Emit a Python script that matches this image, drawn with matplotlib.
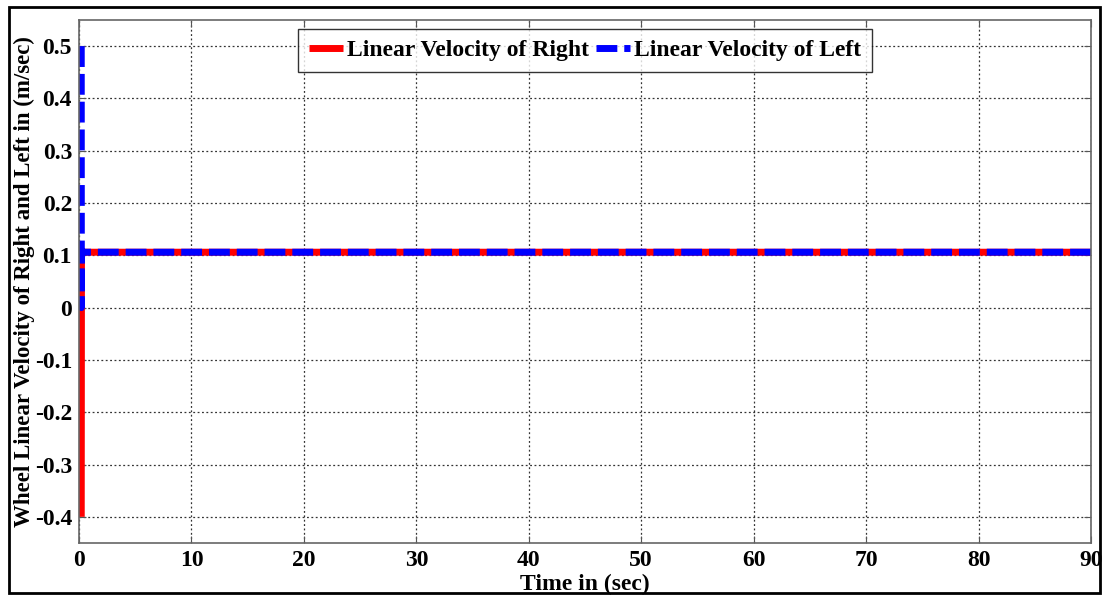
import matplotlib.pyplot as plt
from matplotlib.patches import Rectangle

# wheel velocity samples (time in sec, velocity in m/sec)
t_right = [0.2, 0.22, 90.0]
v_right = [-0.4, 0.106, 0.106]
t_left = [0.2, 0.21, 0.22, 90.0]
v_left = [0.5, 0.0, 0.106, 0.106]

xticks = [0, 10, 20, 30, 40, 50, 60, 70, 80, 90]
yticks = [-0.4, -0.3, -0.2, -0.1, 0, 0.1, 0.2, 0.3, 0.4, 0.5]
yticklabels = ['-0.4', '-0.3', '-0.2', '-0.1', '0', '0.1', '0.2', '0.3', '0.4', '0.5']

plt.rcParams['font.family'] = 'Liberation Serif'
plt.rcParams['font.weight'] = 'bold'

fig = plt.figure(figsize=(11.04, 5.95), dpi=100)
ax = fig.add_axes([79 / 1104, 1 - 543 / 595, (1091 - 79) / 1104, (543 - 20) / 595])

ax.plot(t_right, v_right, color='red', lw=5, solid_capstyle='butt', label='Linear Velocity of Right')
ax.plot(t_left, v_left, color='blue', lw=5, dashes=(3.0, 1.0), dash_capstyle='butt',
        label='Linear Velocity of Left')

ax.set_xlim(0, 90)
ax.set_ylim(-0.45, 0.55)
ax.set_xticks(xticks)
ax.set_yticks(yticks)
ax.set_yticklabels(yticklabels)
ax.tick_params(direction='in', length=5, top=True, right=True, labelsize=17, pad=5, color='#555555')
for lab in ax.get_xticklabels() + ax.get_yticklabels():
    lab.set_fontweight('bold')
for s in ax.spines.values():
    s.set_color('#666666')
    s.set_linewidth(1.2)

ax.grid(True, color='#333333', linestyle=(0, (1.5, 2)), linewidth=0.9)

ax.set_xlabel('Time in (sec)', fontsize=17, fontweight='bold', labelpad=2)
ax.set_ylabel('Wheel Linear Velocity of Right and Left in (m/sec)', fontsize=16.5,
              fontweight='bold')
ax.yaxis.set_label_coords(-44 / 1012, 0.5)

leg = ax.legend(loc='upper center', ncol=2, bbox_to_anchor=(0.5, 0.983), fontsize=17,
                frameon=True, fancybox=False, handlelength=1.45, handletextpad=0.15,
                columnspacing=0.3, borderpad=0.45, borderaxespad=0)
leg.get_frame().set_edgecolor('black')
leg.get_frame().set_linewidth(1.0)
for txt in leg.get_texts():
    txt.set_fontweight('bold')

# outer frame around the whole figure
fig.patches.append(Rectangle((9 / 1104, 2 / 595), 1091 / 1104, 586 / 595, transform=fig.transFigure,
                             fill=False, edgecolor='black', linewidth=2))

fig.savefig('out.png', dpi=100)
